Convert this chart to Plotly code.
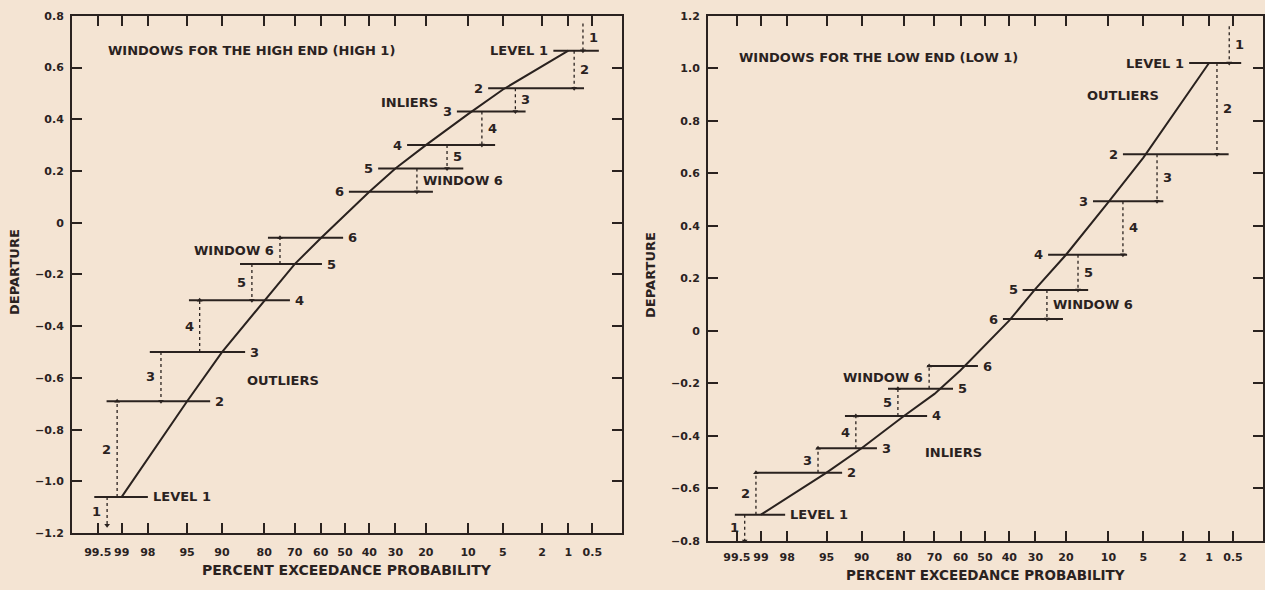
import plotly.graph_objects as go
from statistics import NormalDist

# ---------------- data ----------------
tick_probs = [99.5, 99, 98, 95, 90, 80, 70, 60, 50, 40, 30, 20, 10, 5, 2, 1, 0.5]
tick_prob_labels = ["99.5", "99", "98", "95", "90", "80", "70", "60", "50",
                    "40", "30", "20", "10", "5", "2", "1", "0.5"]

high_yticks = [-1.2, -1.0, -0.8, -0.6, -0.4, -0.2, 0, 0.2, 0.4, 0.6, 0.8]
high_ytick_labels = ["\u22121.2", "\u22121.0", "\u22120.8", "\u22120.6", "\u22120.4",
                     "\u22120.2", "0", "0.2", "0.4", "0.6", "0.8"]
low_yticks = [-0.8, -0.6, -0.4, -0.2, 0, 0.2, 0.4, 0.6, 0.8, 1.0, 1.2]
low_ytick_labels = ["\u22120.8", "\u22120.6", "\u22120.4", "\u22120.2", "0",
                    "0.2", "0.4", "0.6", "0.8", "1.0", "1.2"]

level_names = ["LEVEL 1", "2", "3", "4", "5", "6"]

# ---- HIGH 1 panel ----
high_curve_p = [99, 95, 90, 80, 70, 60, 40, 30, 20, 10, 5, 1]
high_curve_y = [-1.06, -0.69, -0.50, -0.30, -0.16, -0.06, 0.12, 0.21, 0.30, 0.42, 0.515, 0.665]

high_lower_y = [-1.06, -0.69, -0.50, -0.30, -0.16, -0.058]
high_lower_from_p = [99.55, 99.35, 97.9, 94.8, 86.3, 78.9]
high_lower_to_p = [98.0, 92.0, 85.1, 71.7, 59.5, 50.8]

high_upper_y = [0.665, 0.52, 0.43, 0.30, 0.21, 0.12]
high_upper_from_p = [1.5, 6.8, 12.2, 25.9, 36.5, 48.4]
high_upper_to_p = [0.41, 0.64, 3.0, 5.9, 10.9, 18.0]

high_lower_arrow_labels = ["1", "2", "3", "4", "5", "WINDOW 6"]
high_lower_arrow_p = [99.34, 99.12, 97.24, 93.5, 83.4, 75.1]
high_lower_arrow_from = [-1.06, -1.06, -0.50, -0.50, -0.16, -0.16]
high_lower_arrow_to = [-1.17, -0.69, -0.69, -0.30, -0.30, -0.058]

high_upper_arrow_labels = ["WINDOW 6", "5", "4", "3", "2", "1"]
high_upper_arrow_p = [22.7, 14.4, 7.7, 3.8, 0.85, 0.66]
high_upper_arrow_from = [0.21, 0.30, 0.43, 0.52, 0.665, 0.77]
high_upper_arrow_to = [0.12, 0.21, 0.30, 0.43, 0.52, 0.665]

# ---- LOW 1 panel ----
low_curve_p = [99, 95, 90, 80, 70, 60, 40, 30, 20, 10, 5, 1]
low_curve_y = [-0.70, -0.54, -0.447, -0.324, -0.24, -0.15, 0.04, 0.16, 0.29, 0.49, 0.66, 1.02]

low_lower_y = [-0.70, -0.54, -0.447, -0.324, -0.22, -0.134]
low_lower_from_p = [99.53, 99.15, 96.0, 92.7, 84.3, 72.6]
low_lower_to_p = [98.1, 93.1, 86.9, 72.6, 63.0, 52.9]

low_upper_y = [1.02, 0.673, 0.494, 0.29, 0.156, 0.045]
low_upper_from_p = [1.7, 7.6, 13.1, 25.6, 34.8, 42.6]
low_upper_to_p = [0.39, 0.57, 3.2, 7.0, 14.2, 20.9]

low_lower_arrow_labels = ["1", "2", "3", "4", "5", "WINDOW 6"]
low_lower_arrow_p = [99.37, 99.13, 95.85, 91.0, 81.7, 71.9]
low_lower_arrow_from = [-0.70, -0.70, -0.54, -0.447, -0.324, -0.22]
low_lower_arrow_to = [-0.80, -0.54, -0.447, -0.324, -0.22, -0.134]

low_upper_arrow_labels = ["WINDOW 6", "5", "4", "3", "2", "1"]
low_upper_arrow_p = [26.0, 16.7, 7.6, 3.7, 0.8, 0.56]
low_upper_arrow_from = [0.156, 0.29, 0.494, 0.673, 1.02, 1.16]
low_upper_arrow_to = [0.045, 0.156, 0.29, 0.494, 0.673, 1.02]

# ---------------- styling ----------------
INK = "#2a221f"
PAPER = "#f4e4d3"
FONT = "DejaVu Sans"
ND = NormalDist()


def pz(p):
    """Normal-probability scale: percent exceedance -> standard normal deviate."""
    return ND.inv_cdf(1.0 - p / 100.0)


fig = go.Figure()
annotations = []


def txt(text, x, y, xr, yr, xanchor="center", xshift=0, yshift=0, size=13):
    annotations.append(dict(text=text, x=x, y=y, xref=xr, yref=yr, showarrow=False,
                            xanchor=xanchor, yanchor="middle", xshift=xshift, yshift=yshift,
                            font=dict(family=FONT, size=size, color=INK, weight="bold")))


def panel(xa, ya, curve_p, curve_y,
          lo_y, lo_from, lo_to, up_y, up_from, up_to,
          la_lab, la_p, la_from, la_to, ua_lab, ua_p, ua_from, ua_to):
    # the curve
    fig.add_trace(go.Scatter(x=[pz(p) for p in curve_p], y=curve_y, mode="lines",
                             line=dict(color=INK, width=2), xaxis=xa, yaxis=ya,
                             hoverinfo="skip"))
    # horizontal level lines
    for y, a, b, name in zip(lo_y, lo_from, lo_to, level_names):
        fig.add_trace(go.Scatter(x=[pz(a), pz(b)], y=[y, y], mode="lines",
                                 line=dict(color=INK, width=2), xaxis=xa, yaxis=ya,
                                 hoverinfo="skip"))
        txt(name, pz(b), y, xa, ya, xanchor="left", xshift=3)
    for y, a, b, name in zip(up_y, up_from, up_to, level_names):
        fig.add_trace(go.Scatter(x=[pz(a), pz(b)], y=[y, y], mode="lines",
                                 line=dict(color=INK, width=2), xaxis=xa, yaxis=ya,
                                 hoverinfo="skip"))
        txt(name, pz(a), y, xa, ya, xanchor="right", xshift=-3)
    # window arrows
    for labs, ps, fr, to, side in ((la_lab, la_p, la_from, la_to, "left"),
                                    (ua_lab, ua_p, ua_from, ua_to, "right")):
        for lab, p, y0, y1 in zip(labs, ps, fr, to):
            x = pz(p)
            fig.add_trace(go.Scatter(x=[x, x], y=[y0, y1], mode="lines",
                                     line=dict(color=INK, width=1.3, dash="dot"),
                                     xaxis=xa, yaxis=ya, hoverinfo="skip"))
            sym = "triangle-up" if y1 > y0 else "triangle-down"
            fig.add_trace(go.Scatter(x=[x], y=[y1], mode="markers",
                                     marker=dict(symbol=sym, size=5, color=INK),
                                     xaxis=xa, yaxis=ya, hoverinfo="skip"))
            ym = (y0 + y1) / 2.0
            if side == "left":
                txt(lab, x, ym, xa, ya, xanchor="right", xshift=-4)
            else:
                txt(lab, x, ym, xa, ya, xanchor="left", xshift=4)


panel("x", "y", high_curve_p, high_curve_y,
      high_lower_y, high_lower_from_p, high_lower_to_p,
      high_upper_y, high_upper_from_p, high_upper_to_p,
      high_lower_arrow_labels, high_lower_arrow_p, high_lower_arrow_from, high_lower_arrow_to,
      high_upper_arrow_labels, high_upper_arrow_p, high_upper_arrow_from, high_upper_arrow_to)

panel("x2", "y2", low_curve_p, low_curve_y,
      low_lower_y, low_lower_from_p, low_lower_to_p,
      low_upper_y, low_upper_from_p, low_upper_to_p,
      low_lower_arrow_labels, low_lower_arrow_p, low_lower_arrow_from, low_lower_arrow_to,
      low_upper_arrow_labels, low_upper_arrow_p, low_upper_arrow_from, low_upper_arrow_to)

# panel titles and region labels
txt("WINDOWS FOR THE HIGH END (HIGH 1)", 0.062, 0.664, "x domain", "y", xanchor="left")
txt("INLIERS", pz(25), 0.465, "x", "y")
txt("OUTLIERS", pz(74), -0.61, "x", "y")
txt("WINDOWS FOR THE LOW END (LOW 1)", 0.052, 1.04, "x2 domain", "y2", xanchor="left")
txt("OUTLIERS", pz(7.6), 0.896, "x2", "y2")
txt("INLIERS", pz(63), -0.465, "x2", "y2")

# axis titles
txt("PERCENT EXCEEDANCE PROBABILITY", 0.5, 1 - 577 / 590, "x domain", "paper", size=14)
txt("PERCENT EXCEEDANCE PROBABILITY", 0.5, 1 - 581.5 / 590, "x2 domain", "paper", size=13.5)
for xp, yp in ((14 / 1265, 272 / 590), (651 / 1265, 275 / 590)):
    annotations.append(dict(text="DEPARTURE", x=xp, y=1 - yp, xref="paper", yref="paper",
                            xanchor="center", yanchor="middle",
                            showarrow=False, textangle=-90,
                            font=dict(family=FONT, size=13, color=INK, weight="bold")))

xt = [pz(p) for p in tick_probs]
axis_common = dict(showgrid=False, zeroline=False, showline=True, linecolor=INK, linewidth=2,
                   mirror="ticks", ticks="inside", ticklen=10, tickwidth=1.8, tickcolor=INK)
xfont = dict(family=FONT, size=11, color=INK, weight="bold")
yfont = dict(family=FONT, size=11, color=INK, weight="bold")

fig.update_layout(
    width=1265, height=590,
    margin=dict(l=0, r=0, t=0, b=0),
    paper_bgcolor=PAPER, plot_bgcolor=PAPER,
    showlegend=False,
    annotations=annotations,
    xaxis=dict(domain=[72 / 1265, 622 / 1265], range=[-2.844, 2.885], anchor="y",
               tickvals=xt, ticktext=tick_prob_labels, tickfont=xfont, tickangle=0,
               ticklabelstandoff=8, **axis_common),
    yaxis=dict(domain=[1 - 539 / 590, 1 - 10 / 590], range=[-1.2, 0.8], anchor="x",
               tickvals=high_yticks, ticktext=high_ytick_labels, tickfont=yfont,
               ticklabelstandoff=4, **axis_common),
    xaxis2=dict(domain=[708 / 1265, 1263 / 1265], range=[-2.876, 2.887], anchor="y2",
                tickvals=xt, ticktext=tick_prob_labels, tickfont=xfont, tickangle=0,
                ticklabelstandoff=5, **axis_common),
    yaxis2=dict(domain=[1 - 547 / 590, 1 - 10 / 590], range=[-0.8, 1.2], anchor="x2",
                tickvals=low_yticks, ticktext=low_ytick_labels, tickfont=yfont,
                ticklabelstandoff=4, **axis_common),
)

fig.write_html(
    "out.html",
    config={"displayModeBar": False},
    post_script="document.body.style.margin='0';document.body.style.overflow='hidden';"
                "document.body.style.background='" + PAPER + "';",
)
